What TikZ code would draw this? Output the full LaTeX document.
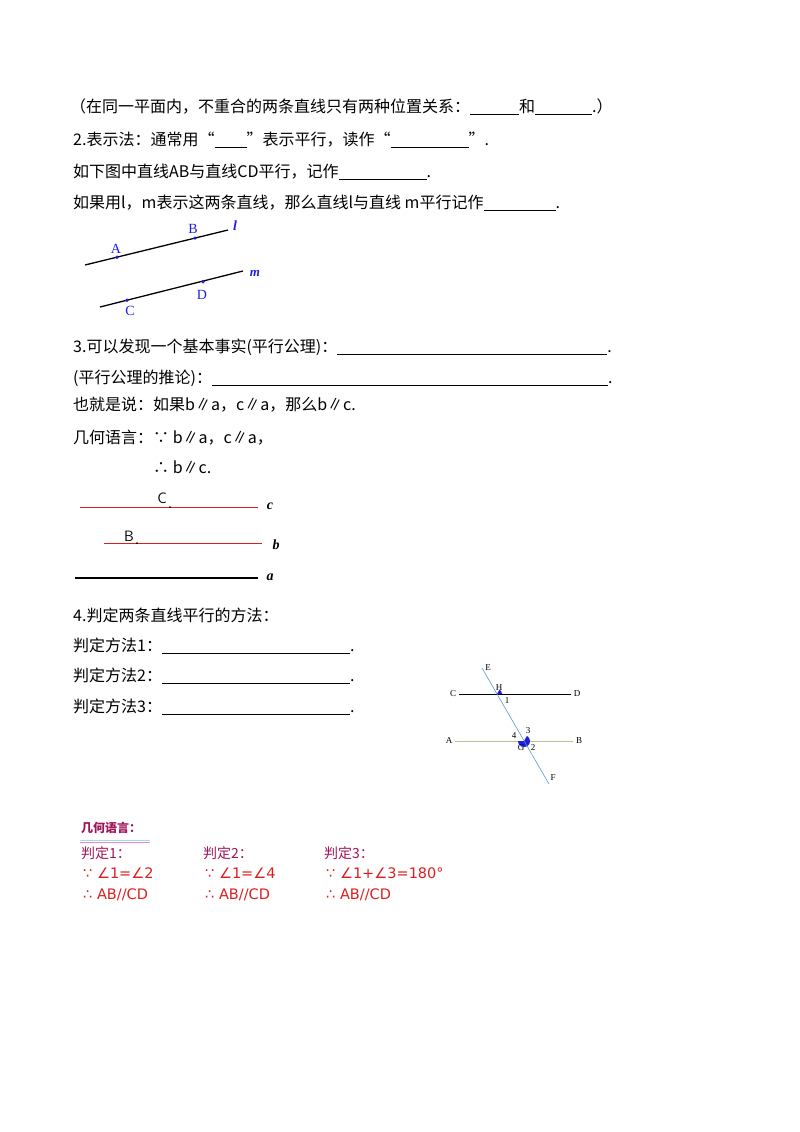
\documentclass[tikz,border=0pt]{standalone}
\usepackage{fontspec}
\setmainfont{Liberation Serif}
\newfontfamily\cjk{Noto Sans CJK SC}
\newfontfamily\dv{DejaVu Sans}
\definecolor{bl}{RGB}{30,30,220}
\definecolor{rd}{RGB}{220,30,30}
\definecolor{mg}{RGB}{160,20,90}
\definecolor{ol}{RGB}{190,190,150}
\definecolor{sk}{RGB}{90,150,210}
\begin{document}
\begin{tikzpicture}[x=1pt,y=-1pt,
 txt/.style={anchor=west,font=\cjk\fontsize{16}{18}\selectfont,inner sep=0},
 lab/.style={font=\fontsize{14}{14}\selectfont,text=bl,inner sep=0},
 sml/.style={font=\fontsize{9}{9}\selectfont,inner sep=0},
 rt/.style={anchor=west,font=\cjk\fontsize{14}{16}\selectfont,text=rd,inner sep=0},
 dotm/.style={circle,fill=bl,inner sep=1.3pt}]
\useasboundingbox (0,0) rectangle (800,1132);
\node[txt] (t1) at (70,107) {（在同一平面内，不重合的两条直线只有两种位置关系：\rule[-2pt]{49pt}{1.2pt}和\rule[-2pt]{57pt}{1.2pt}.）};
\node[txt] (t2) at (73,140) {2.表示法：通常用“\rule[-2pt]{32pt}{1.2pt}”表示平行，读作“\rule[-2pt]{78pt}{0.4pt}”.};
\node[txt] (t3) at (73,172) {如下图中直线AB与直线CD平行，记作\rule[-2pt]{88pt}{0.4pt}.};
\node[txt] (t4) at (73,203) {如果用l，m表示这两条直线，那么直线l与直线 m平行记作\rule[-2pt]{72pt}{0.4pt}.};
% l,m
\coordinate (l1) at (85,265); \coordinate (l2) at (228,230);
\coordinate (m1) at (100,307); \coordinate (m2) at (243,271);
\draw[line width=1.3pt] (l1)--(l2); \draw[line width=1.3pt] (m1)--(m2);
\node[dotm] (A) at (117,257.2) {}; \node[dotm] (B) at (195,238.1) {};
\node[dotm] (C) at (127,300.2) {}; \node[dotm] (D) at (203,281.8) {};
\node[lab] at (116,249) {A}; \node[lab] at (193,229) {B};
\node[lab] at (130,311) {C}; \node[lab] at (202,295) {D};
\node[lab,font=\bfseries\itshape\fontsize{14}{14}\selectfont] at (235,226) {l};
\node[lab,font=\bfseries\itshape\fontsize{13}{13}\selectfont] at (255,273) {m};
\node[txt] (t5) at (73,347) {3.可以发现一个基本事实(平行公理)：\rule[-2pt]{270pt}{0.4pt}.};
\node[txt] (t6) at (73,378) {(平行公理的推论)：\rule[-2pt]{396pt}{0.4pt}.};
\node[txt] (t7) at (73,405) {也就是说：如果b∥a，c∥a，那么b∥c.};
\node[txt] (t8) at (73,438) {几何语言：∵ b∥a，c∥a，};
\node[txt] (t9) at (153,467) {∴ b∥c.};
% abc
\draw[rd,line width=0.9pt] (80,507)--(258,507);
\draw[rd,line width=0.9pt] (104,543)--(262,543);
\draw[line width=1.4pt] (75,578)--(258,578);
\fill (170,507) circle (1pt); \fill (137,543) circle (1pt);
\node[font=\sffamily\fontsize{15}{15}\selectfont,inner sep=0] at (162,498) {C};
\node[font=\sffamily\fontsize{15}{15}\selectfont,inner sep=0] at (129,536) {B};
\node[font=\bfseries\itshape\fontsize{14}{14}\selectfont,inner sep=0] at (270,506) {c};
\node[font=\bfseries\itshape\fontsize{14}{14}\selectfont,inner sep=0] at (276,545) {b};
\node[font=\bfseries\itshape\fontsize{14}{14}\selectfont,inner sep=0] at (270,577) {a};
\node[txt] (t10) at (73,615) {4.判定两条直线平行的方法：};
\node[txt] (t11) at (73,646) {判定方法1：\rule[-2pt]{188pt}{0.4pt}.};
\node[txt] (t12) at (73,676) {判定方法2：\rule[-2pt]{188pt}{0.4pt}.};
\node[txt] (t13) at (73,707) {判定方法3：\rule[-2pt]{188pt}{0.4pt}.};
% EF figure
\coordinate (E0) at (482,668); \coordinate (F0) at (549,784);
\coordinate (H) at (497,694); \coordinate (G) at (524,741);
\draw[line width=0.8pt] (459,694)--(571,694);
\draw[ol,line width=0.7pt] (455,741)--(573,741);
\fill[bl] (H) -- ++(0:5) arc (0:-60:5) -- cycle;
\fill[bl] (G) ++(180:6) arc (180:-60:6) -- (G) -- cycle;
\draw[sk,line width=0.6pt] (E0)--(F0);
\node[sml] at (488,668) {E}; \node[sml] at (453,694) {C}; \node[sml] at (577,694) {D};
\node[sml] at (499,688) {H}; \node[sml] at (507,701) {1};
\node[sml] at (514,736) {4}; \node[sml] at (528,731) {3};
\node[sml] at (449,741) {A}; \node[sml] at (579,741) {B};
\node[sml] at (521,748) {G}; \node[sml] at (533,748) {2};
\node[sml] at (553,778) {F};
% red
\node[rt,text=mg,font=\cjk\bfseries\itshape\fontsize{12}{13}\selectfont] (g) at (81,828) {几何语言：};
\draw[cyan!40,line width=1pt] (80,840)--(150,840);
\draw[magenta!50,line width=0.6pt] (80,842)--(150,842);
\node[rt,text=mg] at (81,853) {判定1：};
\node[rt,text=mg] at (203,853) {判定2：};
\node[rt,text=mg] at (324,853) {判定3：};
\node[rt,font=\dv\fontsize{14.5}{16}\selectfont] at (83,873) {∵ ∠1=∠2};
\node[rt,font=\dv\fontsize{14.5}{16}\selectfont] at (205,873) {∵ ∠1=∠4};
\node[rt,font=\dv\fontsize{14.5}{16}\selectfont] at (326,873) {∵ ∠1+∠3=180°};
\node[rt,font=\dv\fontsize{14.5}{16}\selectfont] at (83,895) {∴ AB∕∕CD};
\node[rt,font=\dv\fontsize{14.5}{16}\selectfont] at (205,895) {∴ AB∕∕CD};
\node[rt,font=\dv\fontsize{14.5}{16}\selectfont] at (326,895) {∴ AB∕∕CD};
\end{tikzpicture}
\end{document}
